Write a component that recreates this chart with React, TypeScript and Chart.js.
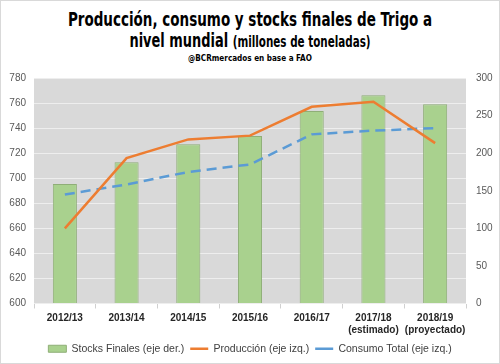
import React, { useEffect, useRef } from 'react';
import { Chart, registerables } from 'chart.js';

Chart.register(...registerables);

const categories: (string | string[])[] = [
  '2012/13',
  '2013/14',
  '2014/15',
  '2015/16',
  '2016/17',
  ['2017/18', '(estimado)'],
  ['2018/19', '(proyectado)'],
];
const stocks = [159, 188, 212, 223, 256, 277, 265];
const production = [660, 716, 731, 734, 757, 761, 728];
const consumption = [687, 695, 705, 711, 735, 738, 740];
const leftTicks = { min: 600, max: 780, step: 20 };
const rightTicks = { min: 0, max: 300, step: 50 };

const plotBg = {
  id: 'plotBg',
  beforeDraw(chart: any) {
    const { ctx, chartArea: a } = chart;
    ctx.save();
    ctx.fillStyle = '#d9d9d9';
    ctx.fillRect(a.left, a.top, a.right - a.left, a.bottom - a.top);
    ctx.restore();
  },
};

const tickFont = { family: "'Liberation Sans', Arial, sans-serif", size: 10 };
const narrow = "'Liberation Sans Narrow', 'DejaVu Sans Condensed', sans-serif";

export default function App() {
  const ref = useRef<HTMLCanvasElement>(null);
  useEffect(() => {
    document.body.style.margin = '0';
    const chart = new Chart(ref.current!, {
      type: 'bar',
      data: {
        labels: categories,
        datasets: [
          {
            type: 'bar',
            label: 'Stocks Finales (eje der.)',
            data: stocks,
            yAxisID: 'y1',
            backgroundColor: '#a9d18e',
            borderColor: '#8fae77',
            borderWidth: 1,
            barPercentage: 0.39,
            categoryPercentage: 1,
            order: 1,
            pointStyle: 'rect',
          } as any,
          {
            type: 'line',
            label: 'Producción (eje izq.)',
            data: production,
            yAxisID: 'y',
            borderColor: '#ed7d31',
            backgroundColor: '#ed7d31',
            borderWidth: 2.5,
            pointRadius: 0,
            tension: 0,
            fill: false,
            order: 0,
            pointStyle: 'line',
          } as any,
          {
            type: 'line',
            label: 'Consumo Total (eje izq.)',
            data: consumption,
            yAxisID: 'y',
            borderColor: '#5b9bd5',
            backgroundColor: '#5b9bd5',
            borderWidth: 2.5,
            borderDash: [10, 6],
            pointRadius: 0,
            tension: 0,
            fill: false,
            order: 0,
            pointStyle: 'line',
          } as any,
        ],
      },
      options: {
        responsive: false,
        animation: false,
        layout: { padding: { top: 0, left: 0, right: 0, bottom: 0 } },
        plugins: {
          title: { display: false },
          tooltip: { enabled: false },
          legend: {
            position: 'bottom',
            labels: {
              usePointStyle: true,
              pointStyleWidth: 18,
              boxHeight: 7,
              padding: 6,
              color: '#404040',
              font: { family: "'Liberation Sans', Arial, sans-serif", size: 10.5 },
              sort: (a: any, b: any) => a.datasetIndex - b.datasetIndex,
            },
          },
        },
        scales: {
          x: {
            offset: true,
            grid: { drawOnChartArea: false, drawTicks: true, tickLength: 5, color: '#d0d0d0' },
            border: { display: false },
            ticks: {
              color: '#262626',
              font: { family: "'Liberation Sans', Arial, sans-serif", size: 10, weight: 'bold' },
              maxRotation: 0,
              autoSkip: false,
              padding: 4,
            },
            afterFit: (s: any) => {
              s.height = 34;
            },
          },
          y: {
            position: 'left',
            min: leftTicks.min,
            max: leftTicks.max,
            ticks: { stepSize: leftTicks.step, color: '#595959', font: tickFont, padding: 8 },
            grid: { color: '#eeeeee', lineWidth: 1, drawTicks: false },
            border: { display: false },
            afterFit: (s: any) => {
              s.width = 34;
            },
          },
          y1: {
            position: 'right',
            min: rightTicks.min,
            max: rightTicks.max,
            ticks: { stepSize: rightTicks.step, color: '#595959', font: tickFont, padding: 10 },
            grid: { drawOnChartArea: false, drawTicks: false },
            border: { display: false },
            afterFit: (s: any) => {
              s.width = 34;
            },
          },
        },
      } as any,
      plugins: [plotBg],
    });
    return () => chart.destroy();
  }, []);

  const lineStyle: React.CSSProperties = {
    position: 'absolute',
    left: 0,
    width: 500,
    textAlign: 'center',
    fontFamily: narrow,
    fontWeight: 'bold',
    color: '#000',
    whiteSpace: 'nowrap',
  };

  return (
    <div style={{ position: 'absolute', left: 0, top: 0, width: 500, height: 364, background: '#fff', overflow: 'hidden' }}>
      <div style={{ ...lineStyle, top: 9, fontSize: 20, lineHeight: '20px', transform: 'scaleX(0.75)' }}>
        Producción, consumo y stocks finales de Trigo a
      </div>
      <div style={{ ...lineStyle, top: 30, fontSize: 20, lineHeight: '20px', transform: 'scaleX(0.72)' }}>
        nivel mundial <span style={{ fontSize: 16 }}>(millones de toneladas)</span>
      </div>
      <div style={{ ...lineStyle, top: 53, fontSize: 9.5, lineHeight: '10px', transform: 'scaleX(0.85)' }}>
        @BCRmercados en base a FAO
      </div>
      <canvas ref={ref} width={500} height={302} style={{ position: 'absolute', left: 0, top: 62, width: 500, height: 302 }} />
      <div style={{ position: 'absolute', left: 0, top: 0, width: 500, height: 364, boxSizing: 'border-box', border: '1px solid #d9d9d9', pointerEvents: 'none' }} />
    </div>
  );
}
